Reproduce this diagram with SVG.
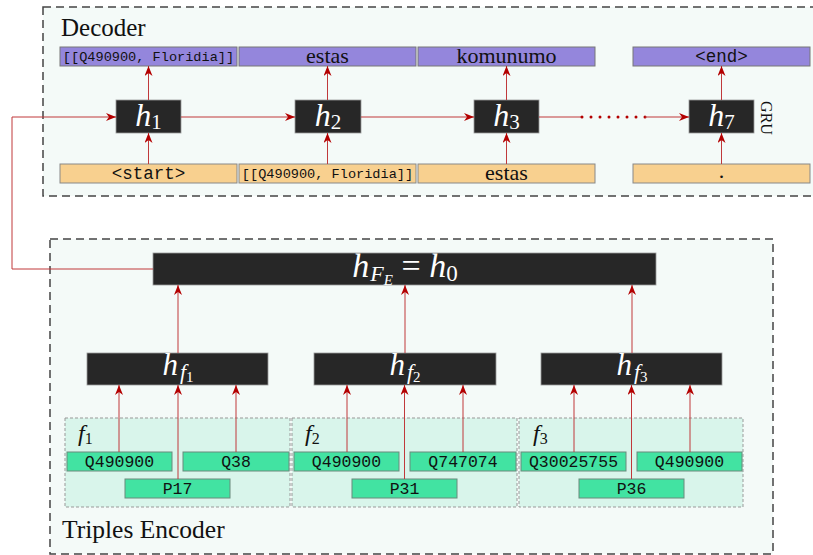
<svg xmlns="http://www.w3.org/2000/svg" width="813" height="555" viewBox="0 0 813 555">
<style>
.panel{fill:#f4faf8;stroke:#444;stroke-width:1.5;stroke-dasharray:8,5}
.fact{fill:#d9f5eb;stroke:#999;stroke-width:1;stroke-dasharray:3,2}
.hbox{fill:#272727;stroke:#999;stroke-width:0.8}
.out{fill:#9486dc;stroke:#777;stroke-width:1}
.in{fill:#f8d08f;stroke:#888;stroke-width:1}
.ent{fill:#42e3a2;stroke:#6a8a7c;stroke-width:1}
.mono{font-family:"Liberation Mono","DejaVu Sans Mono",monospace;fill:#111}
.serif{font-family:"Liberation Serif","DejaVu Serif",serif;fill:#111}
.hl{font-family:"Liberation Serif","DejaVu Serif",serif;font-style:italic;fill:#fff}
.conn{fill:none;stroke:#c0393b;stroke-width:1}
</style>
<defs>
<marker id="arr" markerUnits="userSpaceOnUse" markerWidth="10" markerHeight="8" refX="10" refY="4" orient="auto">
<path d="M0,0 L10,4 L0,8 L3,4 z" fill="#b30000"/>
</marker>
</defs>

<g id="decoder-panel">
<rect class="panel" x="43" y="7" width="790" height="189"/>
<text class="serif" x="61" y="36" font-size="25">Decoder</text>
</g>
<g id="encoder-panel">
<rect class="panel" x="50" y="239" width="723" height="315"/>
<text class="serif" x="62" y="538" font-size="25.5">Triples Encoder</text>
</g>

<g id="out1"><rect class="out" x="60" y="47" width="177" height="19"/><text class="mono" x="148.5" y="61" font-size="13.6" text-anchor="middle">[[Q490900, Floridia]]</text></g>
<g id="out2"><rect class="out" x="239" y="47" width="177" height="19"/><text class="serif" x="327.5" y="63" font-size="22" text-anchor="middle">estas</text></g>
<g id="out3"><rect class="out" x="418" y="47" width="177" height="19"/><text class="serif" x="506.5" y="63" font-size="22" text-anchor="middle">komunumo</text></g>
<g id="out7"><rect class="out" x="633" y="47" width="177" height="19"/><text class="mono" x="721.5" y="62" font-size="17.5" text-anchor="middle">&lt;end&gt;</text></g>

<g id="in1"><rect class="in" x="60" y="164" width="177" height="19"/><text class="mono" x="148.5" y="179" font-size="17.5" text-anchor="middle">&lt;start&gt;</text></g>
<g id="in2"><rect class="in" x="239" y="164" width="177" height="19"/><text class="mono" x="327.5" y="178" font-size="13.6" text-anchor="middle">[[Q490900, Floridia]]</text></g>
<g id="in3"><rect class="in" x="418" y="164" width="177" height="19"/><text class="serif" x="506.5" y="180" font-size="22" text-anchor="middle">estas</text></g>
<g id="in7"><rect class="in" x="633" y="164" width="177" height="19"/><text class="serif" x="721.5" y="178" font-size="22" text-anchor="middle">.</text></g>

<g id="h1"><rect class="hbox" x="116" y="100" width="65" height="33"/><text class="hl" x="148.5" y="126" font-size="32" text-anchor="middle">h<tspan font-style="normal" font-size="21" dy="3">1</tspan></text></g>
<g id="h2"><rect class="hbox" x="295" y="100" width="66" height="33"/><text class="hl" x="328" y="126" font-size="32" text-anchor="middle">h<tspan font-style="normal" font-size="21" dy="3">2</tspan></text></g>
<g id="h3"><rect class="hbox" x="474" y="100" width="65" height="33"/><text class="hl" x="506.5" y="126" font-size="32" text-anchor="middle">h<tspan font-style="normal" font-size="21" dy="3">3</tspan></text></g>
<g id="h7"><rect class="hbox" x="689" y="100" width="65" height="33"/><text class="hl" x="721.5" y="126" font-size="32" text-anchor="middle">h<tspan font-style="normal" font-size="21" dy="3">7</tspan></text>
<text class="serif" transform="translate(761,118) rotate(90)" font-size="16" text-anchor="middle">GRU</text></g>

<g id="hFE"><rect class="hbox" x="153" y="253" width="503" height="32"/><text class="hl" x="405" y="277" font-size="34" text-anchor="middle">h<tspan font-size="22" dy="4" dx="1">F</tspan><tspan font-size="15" dy="4">E</tspan><tspan font-style="normal" dy="-8" font-size="34"> = </tspan>h<tspan font-style="normal" font-size="23" dy="4">0</tspan></text></g>

<g id="hf1"><rect class="hbox" x="87" y="353" width="181" height="32"/><text class="hl" x="178" y="375" font-size="31" text-anchor="middle">h<tspan font-size="22" dy="4" dx="2">f</tspan><tspan font-style="normal" font-size="15" dy="3">1</tspan></text></g>
<g id="hf2"><rect class="hbox" x="314" y="353" width="182" height="32"/><text class="hl" x="405" y="375" font-size="31" text-anchor="middle">h<tspan font-size="22" dy="4" dx="2">f</tspan><tspan font-style="normal" font-size="15" dy="3">2</tspan></text></g>
<g id="hf3"><rect class="hbox" x="541" y="353" width="181" height="32"/><text class="hl" x="632" y="375" font-size="31" text-anchor="middle">h<tspan font-size="22" dy="4" dx="2">f</tspan><tspan font-style="normal" font-size="15" dy="3">3</tspan></text></g>

<g id="fact1">
<rect class="fact" x="65" y="418" width="225" height="89"/>
<text class="serif" x="78" y="441" font-size="24" font-style="italic">f<tspan font-style="normal" font-size="16" dy="3">1</tspan></text>
<rect class="ent" x="67" y="452" width="105" height="19"/><text class="mono" x="119.5" y="467" font-size="16.5" text-anchor="middle">Q490900</text>
<rect class="ent" x="183" y="452" width="106" height="19"/><text class="mono" x="236" y="467" font-size="16.5" text-anchor="middle">Q38</text>
<rect class="ent" x="125" y="479" width="105" height="19"/><text class="mono" x="177.5" y="494" font-size="16.5" text-anchor="middle">P17</text>
</g>
<g id="fact2">
<rect class="fact" x="292" y="418" width="225" height="89"/>
<text class="serif" x="305" y="441" font-size="24" font-style="italic">f<tspan font-style="normal" font-size="16" dy="3">2</tspan></text>
<rect class="ent" x="294" y="452" width="105" height="19"/><text class="mono" x="346.5" y="467" font-size="16.5" text-anchor="middle">Q490900</text>
<rect class="ent" x="410" y="452" width="106" height="19"/><text class="mono" x="463" y="467" font-size="16.5" text-anchor="middle">Q747074</text>
<rect class="ent" x="352" y="479" width="105" height="19"/><text class="mono" x="404.5" y="494" font-size="16.5" text-anchor="middle">P31</text>
</g>
<g id="fact3">
<rect class="fact" x="519" y="418" width="224" height="89"/>
<text class="serif" x="533" y="441" font-size="24" font-style="italic">f<tspan font-style="normal" font-size="16" dy="3">3</tspan></text>
<rect class="ent" x="521" y="452" width="105" height="19"/><text class="mono" x="573.5" y="467" font-size="16.5" text-anchor="middle">Q30025755</text>
<rect class="ent" x="637" y="452" width="105" height="19"/><text class="mono" x="689.5" y="467" font-size="16.5" text-anchor="middle">Q490900</text>
<rect class="ent" x="579" y="479" width="105" height="19"/><text class="mono" x="631.5" y="494" font-size="16.5" text-anchor="middle">P36</text>
</g>

<g id="connectors">
<path class="conn" d="M153,269 H12 V117 H116" marker-end="url(#arr)"/>
<path class="conn" d="M181,117 H295" marker-end="url(#arr)"/>
<path class="conn" d="M361,117 H474" marker-end="url(#arr)"/>
<path class="conn" d="M539,117 H582"/>
<path d="M582,117 H646" fill="none" stroke="#b30000" stroke-width="3" stroke-linecap="round" stroke-dasharray="0,9"/>
<path class="conn" d="M645,117 H689" marker-end="url(#arr)"/>
<path class="conn" d="M148.5,164 V133" marker-end="url(#arr)"/>
<path class="conn" d="M327.5,164 V133" marker-end="url(#arr)"/>
<path class="conn" d="M506.5,164 V133" marker-end="url(#arr)"/>
<path class="conn" d="M721.5,164 V133" marker-end="url(#arr)"/>
<path class="conn" d="M148.5,100 V66" marker-end="url(#arr)"/>
<path class="conn" d="M327.5,100 V66" marker-end="url(#arr)"/>
<path class="conn" d="M506.5,100 V66" marker-end="url(#arr)"/>
<path class="conn" d="M721.5,100 V66" marker-end="url(#arr)"/>
<path class="conn" d="M178,353 V285" marker-end="url(#arr)"/>
<path class="conn" d="M405,353 V285" marker-end="url(#arr)"/>
<path class="conn" d="M632,353 V285" marker-end="url(#arr)"/>
<path class="conn" d="M119,452 V385" marker-end="url(#arr)"/>
<path class="conn" d="M178,479 V385" marker-end="url(#arr)"/>
<path class="conn" d="M236,452 V385" marker-end="url(#arr)"/>
<path class="conn" d="M347,452 V385" marker-end="url(#arr)"/>
<path class="conn" d="M404.5,479 V385" marker-end="url(#arr)"/>
<path class="conn" d="M463,452 V385" marker-end="url(#arr)"/>
<path class="conn" d="M574,452 V385" marker-end="url(#arr)"/>
<path class="conn" d="M631.5,479 V385" marker-end="url(#arr)"/>
<path class="conn" d="M690,452 V385" marker-end="url(#arr)"/>
</g>
</svg>
